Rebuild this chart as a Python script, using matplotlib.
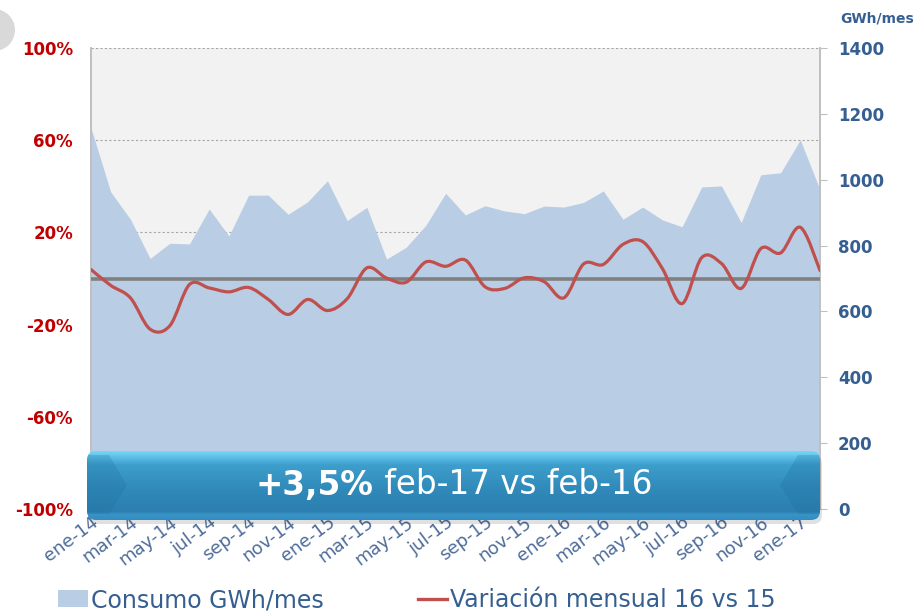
import numpy as np
import matplotlib
matplotlib.use("Agg")
import matplotlib.pyplot as plt
from matplotlib.path import Path
from matplotlib.patches import PathPatch, FancyBboxPatch, Circle, Patch
from matplotlib.lines import Line2D

months = ["ene-14", "feb-14", "mar-14", "abr-14", "may-14", "jun-14", "jul-14", "ago-14", "sep-14", "oct-14", "nov-14", "dic-14",
          "ene-15", "feb-15", "mar-15", "abr-15", "may-15", "jun-15", "jul-15", "ago-15", "sep-15", "oct-15", "nov-15", "dic-15",
          "ene-16", "feb-16", "mar-16", "abr-16", "may-16", "jun-16", "jul-16", "ago-16", "sep-16", "oct-16", "nov-16", "dic-16",
          "ene-17", "feb-17"]
consumo = [1157, 963, 880, 761, 807, 805, 911, 829, 953, 953, 895, 933,
           997, 876, 916, 759, 795, 862, 959, 893, 921, 905, 897, 920,
           917, 931, 966, 880, 917, 878, 857, 978, 981, 870, 1015, 1021,
           1121, 969]
variacion = [3.9, -3.0, -8.4, -22.0, -20.5, -2.6, -4.1, -5.8, -3.9, -9.1, -15.6, -9.1,
             -13.9, -8.8, 4.6, 0.2, -1.6, 7.2, 5.3, 8.0, -3.6, -4.3, 0.3, -1.4,
             -8.4, 6.3, 6.1, 14.8, 16.0, 4.3, -10.9, 9.1, 6.5, -4.3, 13.0, 11.1,
             22.2, 3.5]
left_ticks = [-100, -60, -20, 20, 60, 100]
right_ticks = [0, 200, 400, 600, 800, 1000, 1200, 1400]
banner_bold = "+3,5%"
banner_rest = " feb-17 vs feb-16"

W, H = 918, 612
fig = plt.figure(figsize=(W / 100, H / 100), dpi=100)
fig.patch.set_facecolor("white")

L, R, T, B = 91, 820, 48, 509
ax = fig.add_axes([L / W, 1 - B / H, (R - L) / W, (B - T) / H])
ax2 = ax.twinx()
ax.set_zorder(1)
ax2.set_zorder(2)
ax2.patch.set_visible(False)
ax.set_facecolor("#F2F2F2")

x = np.arange(len(months))
ax2.fill_between(x, consumo, 0, color="#B9CDE5", lw=0, zorder=1)
ax2.set_ylim(0, 1400)
ax2.set_yticks(right_ticks)
ax2.set_yticklabels([str(t) for t in right_ticks], color="#365F91", fontweight="bold", fontsize=12)
ax2.tick_params(axis="y", length=5, color="#BFBFBF", pad=8)

ax.set_ylim(-100, 100)
ax.set_xlim(0, len(months) - 1)
ax.set_yticks(left_ticks)
ax.set_yticklabels([f"{t}%" for t in left_ticks], color="#C00000", fontweight="bold", fontsize=12)
ax.tick_params(axis="y", length=0, pad=13)
for t in [20, 60, 100]:
    ax.axhline(t, color="#A6A6A6", lw=0.8, ls=(0, (2, 2)), zorder=0)

for a in (ax, ax2):
    for s in ["top", "bottom"]:
        a.spines[s].set_visible(False)
    a.spines["left"].set_color("#BFBFBF")
    a.spines["right"].set_color("#BFBFBF")
    a.spines["left"].set_linewidth(1.2)
    a.spines["right"].set_linewidth(1.2)

ax3 = fig.add_axes(ax.get_position(), sharex=ax)
ax3.set_zorder(3)
ax3.patch.set_visible(False)
ax3.set_ylim(-100, 100)
ax3.axis("off")
ax3.axhline(0, color="#808080", lw=2.6, zorder=2)

# smoothed line (Catmull-Rom as cubic Bezier path)
pts = np.column_stack([x, variacion]).astype(float)
verts = [tuple(pts[0])]
codes = [Path.MOVETO]
n = len(pts)
for i in range(n - 1):
    p0 = pts[i - 1] if i > 0 else pts[i]
    p1 = pts[i]
    p2 = pts[i + 1]
    p3 = pts[i + 2] if i + 2 < n else pts[i + 1]
    c1 = p1 + (p2 - p0) / 6.0
    c2 = p2 - (p3 - p1) / 6.0
    verts += [tuple(c1), tuple(c2), tuple(p2)]
    codes += [Path.CURVE4] * 3
ax3.add_patch(PathPatch(Path(verts, codes), fill=False, edgecolor="#C0504D", lw=2.3, zorder=3, capstyle="round"))

ax.set_xticks(x[::2])
ax.set_xticklabels(months[::2], rotation=37, ha="right", rotation_mode="anchor",
                   color="#4F6D9A", fontsize=13)
ax.tick_params(axis="x", length=0, pad=3)
ax2.tick_params(axis="x", length=0)

fig.text(914 / W, 1 - 18 / H, "GWh/mes", color="#365F91", fontweight="bold", fontsize=10, ha="right", va="center")

circ_ax = fig.add_axes([0, 0, 1, 1], zorder=0)
circ_ax.set_xlim(0, W)
circ_ax.set_ylim(H, 0)
circ_ax.axis("off")
circ_ax.add_patch(Circle((-6, 30), 21, color="#D9D9D9", lw=0))

# banner overlay
ov = fig.add_axes([0, 0, 1, 1], zorder=10)
ov.set_xlim(0, W)
ov.set_ylim(H, 0)
ov.axis("off")
bx0, bx1, by0, by1 = 87, 820, 451, 520
shadow = FancyBboxPatch((bx0 + 2, by0 + 4), bx1 - bx0, by1 - by0,
                        boxstyle="round,pad=0,rounding_size=9", fc="#000000", alpha=0.12, lw=0)
ov.add_patch(shadow)
box = FancyBboxPatch((bx0, by0), bx1 - bx0, by1 - by0,
                     boxstyle="round,pad=0,rounding_size=9", fc="none", lw=0)
ov.add_patch(box)
grad_y = np.linspace(0, 1, 200)
cols_stops = [(0.0, (0.45, 0.85, 0.97)), (0.06, (0.40, 0.78, 0.92)), (0.2, (0.24, 0.62, 0.80)),
              (0.55, (0.19, 0.54, 0.73)), (0.88, (0.17, 0.50, 0.69)), (0.92, (0.22, 0.58, 0.78)), (1.0, (0.20, 0.55, 0.75))]
img = np.zeros((200, 1, 3))
for ch in range(3):
    img[:, 0, ch] = np.interp(grad_y, [s[0] for s in cols_stops], [s[1][ch] for s in cols_stops])
im = ov.imshow(img, extent=(bx0, bx1, by1, by0), aspect="auto", zorder=11, interpolation="bilinear")
im.set_clip_path(box)
for side in ("l", "r"):
    if side == "l":
        poly = [(bx0, by0 + 4), (bx0 + 22, by0 + 4), (bx0 + 40, (by0 + by1) / 2), (bx0 + 22, by1 - 6), (bx0, by1 - 6)]
    else:
        poly = [(bx1, by0 + 4), (bx1 - 22, by0 + 4), (bx1 - 40, (by0 + by1) / 2), (bx1 - 22, by1 - 6), (bx1, by1 - 6)]
    pp = plt.Polygon(poly, closed=True, fc="#1E6E9C", alpha=0.25, lw=0, zorder=12)
    ov.add_patch(pp)
    pp.set_clip_path(box)

tb = ov.text(0, 0, banner_bold, fontsize=23.5, fontweight="bold", color="white", va="center", zorder=13)
tr = ov.text(0, 0, banner_rest, fontsize=23.5, color="white", va="center", zorder=13)
fig.canvas.draw()
rend = fig.canvas.get_renderer()
wb = tb.get_window_extent(rend).width
wr = tr.get_window_extent(rend).width
cx = 454
start = cx - (wb + wr) / 2
tb.set_position((start, 485))
tr.set_position((start + wb, 485))

leg_handles = [Patch(fc="#B9CDE5", ec="none"), Line2D([], [], color="#C0504D", lw=2.4)]
fig.legend(leg_handles, ["Consumo GWh/mes", "Variación mensual 16 vs 15"], loc="center",
           bbox_to_anchor=(417 / W, 1 - 600 / H), ncol=2, frameon=False, fontsize=17,
           labelcolor="#365F91", handlelength=1.25, handletextpad=0.12, columnspacing=4.0,
           borderpad=0)

fig.savefig("out.png", dpi=100)
